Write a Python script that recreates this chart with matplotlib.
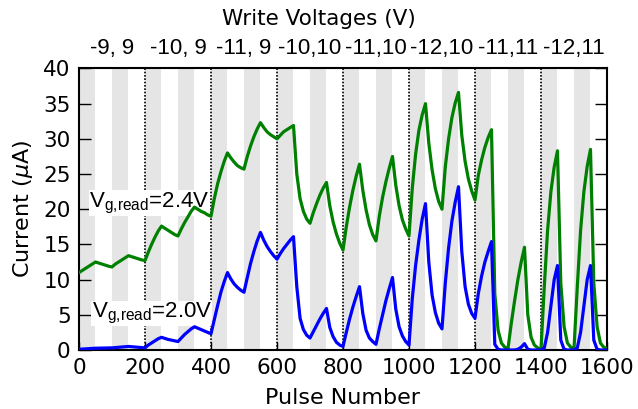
import numpy as np
import matplotlib
matplotlib.use('Agg')
import matplotlib.pyplot as plt
from matplotlib import rcParams

rcParams['font.family'] = ['DejaVu Sans']
rcParams['mathtext.fontset'] = 'custom'
rcParams['mathtext.rm'] = 'Liberation Sans'
rcParams['mathtext.it'] = 'DejaVu Sans:italic'

# pulse index (every 10 pulses)
pulse = np.arange(0, 1601, 10)

# read current (uA) at Vg,read = 2.4 V
green_24 = [11.0,
    11.3, 11.6, 11.9, 12.2, 12.5,   12.35, 12.2, 12.05, 11.9, 11.8,
    12.2, 12.5, 12.8, 13.1, 13.4,   13.25, 13.1, 12.95, 12.8, 12.7,
    13.9, 15.0, 16.0, 16.9, 17.6,   17.3, 17.0, 16.7, 16.4, 16.2,
    17.2, 18.1, 18.9, 19.7, 20.3,   20.0, 19.7, 19.5, 19.2, 19.0,
    21.5, 23.6, 25.3, 26.8, 28.0,   27.3, 26.7, 26.2, 25.9, 25.7,
    27.5, 29.0, 30.3, 31.4, 32.3,   31.6, 31.0, 30.6, 30.3, 30.0,
    30.5, 31.0, 31.3, 31.6, 31.9,   25.0, 21.5, 19.7, 18.6, 18.0,
    19.5, 20.8, 22.0, 23.0, 23.8,   20.5, 18.2, 16.5, 15.2, 14.2,
    17.5, 20.3, 22.7, 24.7, 26.4,   22.7, 19.9, 17.8, 16.4, 15.5,
    19.0, 21.7, 23.9, 25.8, 27.5,   23.4, 20.5, 18.5, 17.2, 16.2,
    23.0, 27.8, 31.2, 33.4, 35.0,   29.4, 25.6, 22.9, 21.1, 20.0,
    26.0, 30.0, 33.0, 35.1, 36.6,   30.5, 26.8, 24.3, 22.6, 21.3,
    24.8, 27.0, 28.8, 30.2, 31.3,   8.0, 2.8, 1.0, 0.4, 0.2,
    3.8, 7.0, 10.0, 12.5, 14.6,     5.0, 1.8, 0.7, 0.3, 0.1,
    9.0, 17.0, 22.5, 26.0, 28.3,    9.5, 3.3, 1.0, 0.4, 0.2,
    9.0, 17.0, 22.5, 26.1, 28.5,    9.5, 3.3, 1.0, 0.4, 0.2]

# read current (uA) at Vg,read = 2.0 V
blue_20 = [0.1,
    0.13, 0.16, 0.19, 0.22, 0.25,   0.26, 0.27, 0.28, 0.29, 0.3,
    0.34, 0.38, 0.42, 0.46, 0.5,    0.46, 0.42, 0.38, 0.34, 0.3,
    0.7, 1.0, 1.3, 1.6, 1.8,        1.65, 1.5, 1.4, 1.3, 1.2,
    1.7, 2.2, 2.6, 3.0, 3.3,        3.1, 2.9, 2.7, 2.5, 2.3,
    4.3, 6.3, 8.2, 9.7, 11.0,       10.1, 9.4, 8.9, 8.5, 8.2,
    10.3, 12.3, 14.0, 15.5, 16.7,   15.6, 14.7, 14.0, 13.4, 12.9,
    13.7, 14.4, 15.0, 15.6, 16.1,   9.0, 4.5, 2.9, 2.1, 1.7,
    2.6, 3.5, 4.4, 5.2, 5.9,        3.2, 1.9, 1.1, 0.7, 0.5,
    2.5, 4.4, 6.1, 7.6, 9.0,        5.2, 2.8, 1.7, 1.2, 0.8,
    3.0, 5.0, 7.0, 8.7, 10.3,       5.8, 3.3, 2.0, 1.2, 0.7,
    7.3, 12.0, 15.6, 18.6, 20.8,    12.5, 7.8, 5.3, 3.8, 3.0,
    9.5, 14.5, 18.3, 21.0, 23.2,    14.0, 9.0, 6.5, 5.2, 4.5,
    8.0, 10.5, 12.5, 14.0, 15.4,    0.8, 0.1, 0.0, 0.0, 0.0,
    0.0, 0.0, 0.1, 0.4, 0.9,        0.1, 0.0, 0.0, 0.0, 0.0,
    0.3, 2.5, 6.3, 10.0, 12.0,      1.4, 0.1, 0.0, 0.0, 0.0,
    0.3, 2.5, 6.3, 10.0, 12.0,      1.4, 0.1, 0.0, 0.0, 0.0]

write_labels = ['-9, 9', '-10, 9', '-11, 9', '-10,10', '-11,10', '-12,10', '-11,11', '-12,11']
write_centers = [100, 300, 500, 700, 900, 1100, 1300, 1500]
boundaries = [200, 400, 600, 800, 1000, 1200, 1400]

fig = plt.figure(figsize=(6.38, 4.09), dpi=100)
ax = fig.add_axes([0.1238, 0.1443, 0.8276, 0.6883])

# shaded pulse windows
for s in range(0, 1600, 100):
    ax.axvspan(s, s + 50, color='#e5e5e5', lw=0, zorder=0)
for b in boundaries:
    ax.axvline(b, color='k', ls=(0, (1, 1)), lw=1.2, zorder=1)

ax.plot(pulse, green_24, color='green', lw=2.3, zorder=3)
ax.plot(pulse, blue_20, color='blue', lw=2.3, zorder=3)

box = dict(facecolor='white', edgecolor='none', pad=0.2)
ax.text(30, 20.3, r'V$_{\mathrm{g{,}read}}$=2.4V', family='Liberation Sans', fontsize=16,
        va='baseline', bbox=box, zorder=2)
ax.text(38, 4.6, r'V$_{\mathrm{g{,}read}}$=2.0V', family='Liberation Sans', fontsize=16,
        va='baseline', bbox=box, zorder=2)

ax.set_xlim(0, 1600)
ax.set_ylim(0, 40)
ax.set_xticks(range(0, 1601, 200))
ax.set_yticks(range(0, 41, 5))
ax.tick_params(axis='both', direction='in', top=True, right=True, labelsize=15.5, width=1)
ax.tick_params(axis='y', length=8.5, pad=6)
ax.tick_params(axis='x', length=6, pad=6)
for sp in ax.spines.values():
    sp.set_linewidth(1.5)
ax.set_xlabel('Pulse Number', fontsize=16, labelpad=7)
ax.set_ylabel(r'Current ($\mu$A)', fontsize=16, labelpad=6)

ax2 = ax.twiny()
ax2.set_xlim(0, 1600)
ax2.set_xticks(write_centers)
ax2.set_xticklabels(write_labels, family='Liberation Sans', fontsize=16)
ax2.tick_params(axis='x', length=0, pad=7)
for sp in ax2.spines.values():
    sp.set_visible(False)

fig.text(0.5, 1 - 19 / 409, 'Write Voltages (V)', fontsize=15.5, ha='center', va='center')

fig.savefig('out.png', dpi=100)
